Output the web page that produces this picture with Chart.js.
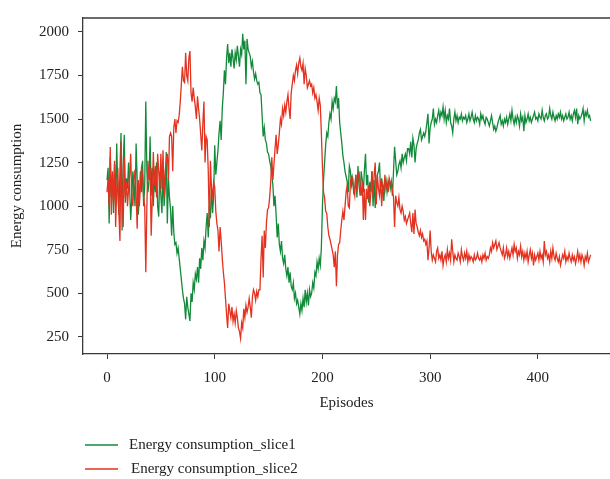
<!DOCTYPE html>
<html>
<head>
<meta charset="utf-8">
<script src="https://cdn.jsdelivr.net/npm/chart.js@4.4.1/dist/chart.umd.min.js"></script>
<style>
  html, body { margin: 0; padding: 0; background: #fff; }
  #wrap { width: 610px; height: 479px; }
</style>
</head>
<body>
<div id="wrap"><canvas id="energy-chart" width="610" height="479"></canvas></div>
<script>
// values, one per episode (0..449)
const energySlice1 = [
  1150, 1220, 900, 1280, 1050, 1180, 960, 1240, 1000, 1360,
  1080, 950, 1200, 1420, 860, 1240, 1410, 1020, 1160, 1100,
  1250, 1100, 920, 1050, 1200, 1120, 1000, 1360, 1150, 950,
  1050, 1200, 1080, 1260, 1000, 1120, 1600, 1200, 1080, 1150,
  1400, 1060, 1220, 1000, 1180, 1080, 1250, 1000, 940, 1200,
  1060, 960, 1220, 1000, 1100, 1310, 900, 1160, 1050, 980,
  830, 1000, 850, 780, 790, 730, 760, 700, 640, 580,
  520, 470, 440, 350, 480, 420, 380, 340, 500, 450,
  560, 520, 610, 580, 650, 560, 700, 640, 760, 690,
  800, 760, 880, 960, 820, 1000, 930, 1100, 960, 1060,
  1350, 1180, 1250, 1320, 1420, 1490, 1380, 1560, 1650, 1780,
  1700, 1850, 1930, 1820, 1880, 1800, 1900, 1850, 1790, 1880,
  1840, 1920, 1860, 1800, 1900, 1870, 1990, 1900, 1950, 1700,
  1960, 1900, 1880, 1860, 1800, 1830, 1770, 1730, 1760, 1720,
  1700, 1710, 1650, 1640, 1520, 1400, 1450, 1380, 1360, 1310,
  1300, 1260, 1230, 1180, 1120, 1000, 1060, 950, 820, 900,
  780, 740, 800, 700, 670, 720, 640, 600, 650, 560,
  620, 540, 520, 560, 470, 500, 440, 460, 420, 380,
  440, 400, 470, 420, 520, 450, 500, 430, 520, 480,
  500, 560, 530, 620, 600, 680, 640, 700, 660, 760,
  1000, 1150, 1250, 1350, 1420, 1400, 1480, 1530, 1500, 1600,
  1560, 1620, 1600, 1690, 1560, 1620, 1480, 1420, 1360, 1290,
  1250, 1200, 1170, 1140, 1080, 1230, 1200, 1120, 1160, 1080,
  1100, 1180, 1050, 1230, 1120, 1060, 1200, 1150, 1080, 1210,
  1300, 1120, 1180, 1020, 1140, 1080, 1200, 1000, 1150, 990,
  1100, 1180, 1200, 1250, 1080, 1160, 1100, 1030, 1120, 1150,
  1080, 1130, 1150, 1100, 1140, 1060, 1200, 1340, 1260, 1180,
  1200, 1240, 1260, 1220, 1300, 1250, 1280, 1300, 1260, 1330,
  1330, 1300, 1370, 1280, 1390, 1350, 1250, 1330, 1360, 1380,
  1420, 1440, 1380, 1400, 1420, 1400, 1430, 1480, 1530, 1360,
  1450, 1480, 1500, 1560, 1470, 1500, 1480, 1520, 1550, 1500,
  1540, 1520, 1570, 1500, 1550, 1480, 1520, 1500, 1560, 1480,
  1460, 1420, 1500, 1540, 1490, 1520, 1480, 1510, 1500, 1530,
  1490, 1510, 1500, 1520, 1480, 1500, 1530, 1490, 1510, 1540,
  1500, 1480, 1520, 1490, 1510, 1500, 1470, 1530, 1500, 1520,
  1490, 1470, 1510, 1500, 1480, 1460, 1490, 1520, 1480, 1440,
  1460, 1430, 1450, 1480, 1500, 1520, 1470, 1490, 1460, 1500,
  1480, 1510, 1470, 1500, 1530, 1490, 1550, 1500, 1470, 1510,
  1480, 1520, 1500, 1460, 1530, 1490, 1510, 1430, 1520, 1480,
  1500, 1530, 1490, 1510, 1480, 1500, 1520, 1540, 1500, 1510,
  1490, 1530, 1510, 1500, 1550, 1510, 1490, 1520, 1530, 1500,
  1510, 1560, 1520, 1500, 1540, 1510, 1490, 1520, 1500, 1530,
  1510, 1540, 1500, 1520, 1490, 1510, 1530, 1500, 1510, 1540,
  1500, 1520, 1490, 1530, 1550, 1510, 1560, 1470, 1520, 1500,
  1510, 1530, 1560, 1490, 1540, 1520, 1550, 1510, 1520, 1490
];

const energySlice2 = [
  1080, 1160, 1000, 1340, 950, 1200, 1020, 1260, 880, 1100,
  1220, 960, 800, 1370, 1100, 880, 1280, 1050, 1140, 1000,
  1100, 1180, 1300, 1040, 1000, 1150, 1210, 1080, 870, 1150,
  1000, 1120, 1220, 1180, 1050, 1000, 620, 1000, 1260, 1150,
  1220, 830, 1040, 1310, 1120, 1230, 1050, 1300, 1200, 1080,
  1300, 1100, 1320, 1050, 1200, 1260, 1300, 1150, 1400, 1420,
  1400, 1200, 1450, 1500, 1420, 1490, 1480, 1520, 1600, 1700,
  1800, 1720, 1710, 1880, 1750, 1720, 1850, 1890, 1650, 1600,
  1680, 1620, 1570, 1500, 1630, 1560, 1500, 1410, 1320, 1480,
  1600, 1250, 1400, 1380, 1200, 880, 1260, 1100, 1060, 1140,
  1110, 970, 900, 860, 740, 880, 800, 700, 620, 560,
  470, 380, 300, 440, 400, 360, 420, 340, 380, 330,
  400, 360, 300, 280, 240, 330, 300, 410, 360, 430,
  390, 420, 470, 420, 360, 480, 520, 500, 460, 510,
  480, 520, 520, 700, 830, 590, 860, 760, 900, 980,
  990, 1050, 1140, 1280, 1150, 1240, 1330, 1410, 1300, 1350,
  1420, 1500, 1470, 1560, 1520, 1580, 1540, 1600, 1640, 1560,
  1500, 1650, 1700, 1750, 1720, 1780, 1810, 1760, 1820, 1850,
  1800, 1780, 1820, 1700, 1790, 1750, 1680, 1700, 1720, 1690,
  1700, 1650, 1680, 1620, 1640, 1600, 1550, 1620, 1580, 1420,
  1230, 1080, 1050, 970, 960, 880, 830, 810, 780, 750,
  720, 650, 740, 540, 720, 780, 790, 860, 920, 970,
  920, 1000, 1080, 1120, 1000, 990, 1140, 1170, 1160, 1100,
  1060, 1180, 1080, 1150, 1200, 1120, 1060, 1140, 920, 1100,
  920, 1100, 1040, 1120, 1000, 1080, 1200, 1050, 1180, 1250,
  1010, 1180, 1100, 1060, 1150, 1000, 1120, 1090, 1180, 1100,
  1140, 1080, 1160, 1130, 1140, 1090, 1050, 880, 1060, 1020,
  1000, 1050, 980, 960, 1000, 970, 920, 940, 900, 920,
  940, 960, 900, 850, 960, 840, 980, 900, 880, 850,
  830, 860, 820, 840, 800, 810, 780, 800, 690, 760,
  860, 740, 690, 720, 700, 680, 740, 760, 700, 720,
  690, 740, 660, 700, 720, 680, 750, 700, 730, 690,
  810, 740, 680, 720, 700, 690, 730, 710, 680, 750,
  710, 690, 730, 700, 740, 680, 720, 690, 710, 700,
  680, 720, 690, 700, 730, 700, 690, 710, 680, 720,
  700, 730, 690, 710, 700, 720, 760, 740, 790, 760,
  780, 800, 750, 770, 790, 760, 740, 720, 760, 700,
  720, 760, 710, 740, 700, 730, 760, 720, 780, 740,
  760, 700, 740, 720, 770, 710, 740, 690, 730, 700,
  740, 680, 720, 750, 700, 730, 660, 720, 690, 710,
  730, 690, 740, 700, 720, 680, 800, 720, 740, 700,
  720, 680, 740, 700, 760, 710, 690, 730, 700, 680,
  710, 660, 690, 720, 700, 740, 680, 710, 690, 730,
  700, 680, 720, 690, 710, 670, 700, 740, 690, 720,
  680, 720, 700, 660, 710, 690, 730, 680, 700, 720
];

const episodes = energySlice1.map((_, i) => i);
const xTicks = [0, 100, 200, 300, 400];
const yTicks = [250, 500, 750, 1000, 1250, 1500, 1750, 2000];
const seriesNames = ['Energy consumption_slice1', 'Energy consumption_slice2'];
const seriesColors = ['#138a3a', '#e3321f'];

const FONT = "'Liberation Serif', 'DejaVu Serif', serif";
const INK = '#222';
const AXIS = '#3a3a3a';

// top spine + legend under the axes
const framePlugin = {
  id: 'frame',
  afterDraw(chart) {
    const { ctx, chartArea } = chart;
    ctx.save();
    ctx.strokeStyle = AXIS;
    ctx.lineWidth = 1.3;
    ctx.beginPath();
    ctx.moveTo(chartArea.left, chartArea.top);
    ctx.lineTo(chartArea.right, chartArea.top);
    ctx.stroke();

    const rows = [445, 469];
    ctx.font = '15px ' + FONT;
    ctx.textBaseline = 'middle';
    ctx.fillStyle = INK;
    seriesNames.forEach((name, i) => {
      ctx.strokeStyle = seriesColors[i];
      ctx.lineWidth = 1.5;
      ctx.beginPath();
      ctx.moveTo(85, rows[i]);
      ctx.lineTo(118, rows[i]);
      ctx.stroke();
      ctx.fillText(name, i === 0 ? 129 : 131, rows[i]);
    });
    ctx.restore();
  }
};

const mkSeries = (vals) => vals.map((v, i) => ({ x: episodes[i], y: v }));
const plain = (v) => String(v);

new Chart(document.getElementById('energy-chart'), {
  type: 'line',
  data: {
    datasets: [
      {
        label: seriesNames[0],
        data: mkSeries(energySlice1),
        borderColor: seriesColors[0],
        borderWidth: 1.3,
        pointRadius: 0,
        tension: 0,
        order: 1
      },
      {
        label: seriesNames[1],
        data: mkSeries(energySlice2),
        borderColor: seriesColors[1],
        borderWidth: 1.3,
        pointRadius: 0,
        tension: 0,
        order: 0
      }
    ]
  },
  options: {
    responsive: false,
    animation: false,
    layout: { padding: { top: 9, right: 0, bottom: 0, left: 0 } },
    plugins: { legend: { display: false }, tooltip: { enabled: false } },
    scales: {
      x: {
        type: 'linear',
        min: -22.3,
        max: 467,
        afterFit: (s) => { s.height = 125; },
        afterBuildTicks: (s) => { s.ticks = xTicks.map((v) => ({ value: v })); },
        grid: { drawOnChartArea: false, tickLength: 5, color: AXIS, lineWidth: 1 },
        border: { color: AXIS, width: 1.3 },
        ticks: { font: { family: FONT, size: 15 }, color: INK, padding: 10, maxRotation: 0, callback: plain },
        title: {
          display: true,
          text: 'Episodes',
          font: { family: FONT, size: 15 },
          color: INK,
          padding: { top: 0, bottom: 67 }
        }
      },
      y: {
        min: 151,
        max: 2080,
        afterFit: (s) => { s.width = 83; },
        afterBuildTicks: (s) => { s.ticks = yTicks.map((v) => ({ value: v })); },
        grid: { drawOnChartArea: false, tickLength: 5, color: AXIS, lineWidth: 1 },
        border: { color: AXIS, width: 1.3 },
        ticks: { font: { family: FONT, size: 15 }, color: INK, padding: 9, callback: plain },
        title: {
          display: true,
          text: 'Energy consumption',
          font: { family: FONT, size: 15 },
          color: INK,
          padding: { top: 8, bottom: 0 }
        }
      }
    }
  },
  plugins: [framePlugin]
});
</script>
</body>
</html>
